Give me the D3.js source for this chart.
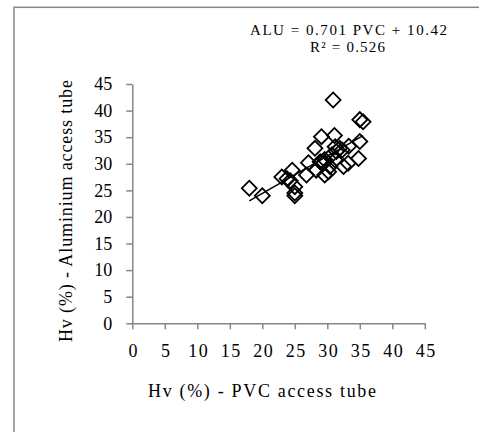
<!DOCTYPE html>
<html>
<head>
<meta charset="utf-8">
<script src="https://cdn.jsdelivr.net/npm/d3@7"></script>
<style>
	body { margin: 0; background: #fff; }
	text { font-family: "Liberation Serif", "Times New Roman", serif; fill: #000; }
	.axis path, .axis line { stroke: #868686; stroke-width: 1.5; }
	.axis text { font-size: 18px; }
</style>
</head>
<body>
<div id="chart"></div>
<script>
// Hv (%) readings, PVC tube vs aluminium tube
const pvc = [18, 20, 23, 23.8, 24.3, 24.6, 25, 25, 25, 26.8, 27.1, 28.1, 28.3, 28.9, 29.1, 29.4, 29.6, 29.6,
	30.2, 30.4, 30.9, 31.1, 31.2, 30.7, 31.4, 31.2, 31.9, 32.5, 33.2, 33.3, 34.8, 35, 35, 35.5, 32.3, 29]
const alu = [25.4, 24, 27.5, 27.2, 26.8, 28.8, 25.7, 24.5, 24, 27.9, 30.2, 32.9, 28.8, 30.4, 35.1, 30.1, 30.8, 27.9,
	28.5, 29.5, 42, 35.3, 33.2, 31.7, 32.3, 30.7, 32.9, 29.5, 30.1, 33.3, 31, 34.2, 38.3, 37.9, 32.6, 30.3]
const ticks = [0, 5, 10, 15, 20, 25, 30, 35, 40, 45]
const slope = 0.701, intercept = 10.42
const eqLabel = 'ALU =  0.701 PVC + 10.42'
const r2Label = 'R² = 0.526'

const w = 479, h = 432
const x0 = 132.3, x1 = 424.8, y0 = 323.3, y1 = 84

const svg = d3.select('#chart').append('svg')
	.attr('width', w)
	.attr('height', h)

// frame
svg.append('rect')
	.attr('x', 14).attr('y', 7.3)
	.attr('width', 500).attr('height', 500)
	.attr('fill', 'none')
	.attr('stroke', '#868686')
	.attr('stroke-width', 1.5)

const x = d3.scaleLinear().domain([0, 45]).range([x0, x1])
const y = d3.scaleLinear().domain([0, 45]).range([y0, y1])

const gx = svg.append('g')
	.attr('class', 'axis')
	.attr('transform', `translate(0,${y0})`)
	.call(d3.axisBottom(x).tickValues(ticks).tickSize(6).tickSizeOuter(0).tickPadding(15))
gx.selectAll('text').attr('letter-spacing', '1.5px').attr('dx', 1)

const gy = svg.append('g')
	.attr('class', 'axis')
	.attr('transform', `translate(${x0},0)`)
	.call(d3.axisLeft(y).tickValues(ticks).tickSize(6).tickSizeOuter(0).tickPadding(14))

// trend line
const xs = d3.extent(pvc)
svg.append('line')
	.attr('x1', x(xs[0])).attr('y1', y(slope * xs[0] + intercept))
	.attr('x2', x(xs[1])).attr('y2', y(slope * xs[1] + intercept))
	.attr('stroke', '#000')
	.attr('stroke-width', 1.5)

// points
const diamond = d3.symbol().type(d3.symbolSquare).size(112)
svg.append('g')
	.selectAll('path')
	.data(pvc.map((v, i) => [v, alu[i]]))
	.join('path')
	.attr('d', diamond)
	.attr('transform', d => `translate(${x(d[0])},${y(d[1])}) rotate(45)`)
	.attr('fill', 'none')
	.attr('stroke', '#000')
	.attr('stroke-width', 1.8)

// titles
svg.append('text')
	.attr('x', 148).attr('y', 397)
	.attr('textLength', 228)
	.attr('lengthAdjust', 'spacing')
	.style('font-size', '18px')
	.text('Hv (%) - PVC access  tube')

svg.append('text')
	.attr('transform', `translate(72,342) rotate(-90)`)
	.attr('textLength', 262)
	.attr('lengthAdjust', 'spacing')
	.style('font-size', '18px')
	.text('Hv (%) - Aluminium access tube')

svg.append('text')
	.attr('x', 250).attr('y', 35)
	.attr('textLength', 197)
	.attr('lengthAdjust', 'spacing')
	.style('font-size', '15px')
	.text(eqLabel)

svg.append('text')
	.attr('x', 310).attr('y', 51.7)
	.attr('textLength', 75)
	.attr('lengthAdjust', 'spacing')
	.style('font-size', '15px')
	.text(r2Label)
</script>
</body>
</html>
